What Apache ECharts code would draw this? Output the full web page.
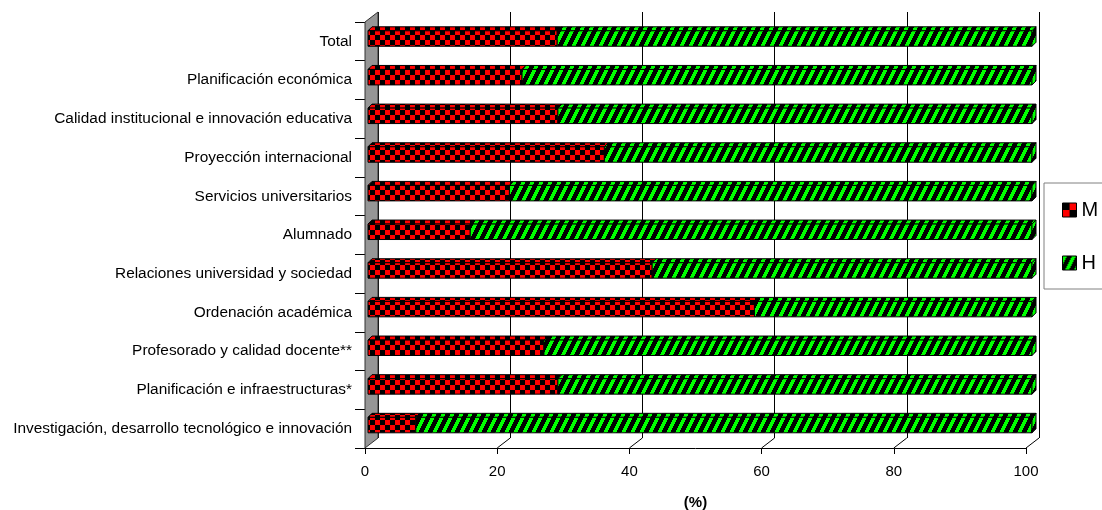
<!DOCTYPE html>
<html><head><meta charset="utf-8">
<script src="https://cdn.jsdelivr.net/npm/echarts@6/dist/echarts.min.js"></script>
<style>html,body{margin:0;padding:0;background:#fff}#c{width:1102px;height:510px}</style>
</head><body><div id="c"></div>
<script>
const categories = ['Total','Planificación económica','Calidad institucional e innovación educativa','Proyección internacional','Servicios universitarios','Alumnado','Relaciones universidad y sociedad','Ordenación académica','Profesorado y calidad docente**','Planificación e infraestructuras*','Investigación, desarrollo tecnológico e innovación'];
const valuesM = [28.5, 23.2, 28.6, 35.6, 21.3, 15.4, 42.8, 58.2, 26.5, 28.6, 7.2];
const valuesH = [71.5, 76.8, 71.4, 64.4, 78.7, 84.6, 57.2, 41.8, 73.5, 71.4, 92.8];
const xTicks = [0, 20, 40, 60, 80, 100];
const seriesNames = ['M', 'H'];
const axisTitle = '(%)';

function makeChecker(sq) {
  const c = document.createElement('canvas'); c.width = sq * 2; c.height = sq * 2;
  const g = c.getContext('2d');
  g.fillStyle = '#FF0000'; g.fillRect(0, 0, sq * 2, sq * 2);
  g.fillStyle = '#000000'; g.fillRect(0, 0, sq, sq); g.fillRect(sq, sq, sq, sq);
  return c;
}
function makeStripes() {
  const w = 9, h = 18;
  const c = document.createElement('canvas'); c.width = w; c.height = h;
  const g = c.getContext('2d');
  g.fillStyle = '#000000'; g.fillRect(0, 0, w, h);
  g.fillStyle = '#00FF00';
  for (let y = 0; y < h; y++) for (let x = 0; x < w; x++) {
    if (((x + Math.floor(y / 2)) % w) < 4) g.fillRect(x, y, 1, 1);
  }
  return c;
}
const patM = { image: makeChecker(5), repeat: 'repeat' };
const patH = { image: makeStripes(), repeat: 'repeat' };
const patMLegend = { image: makeChecker(7), repeat: 'repeat' };
const D = 4;          // bar top-face depth
const WX = 13, WY = 10; // wall depth

function barRenderer(pat, drawSide) {
  return function (params, api) {
    const ci = api.value(0);
    const p0 = api.coord([api.value(1), ci]);
    const p1 = api.coord([api.value(2), ci]);
    const h = api.size([0, 1])[1] * 0.4;
    const yT = p0[1] - h / 2, yB = p0[1] + h / 2;
    const x0 = p0[0], x1 = p1[0];
    const st = { fill: pat, stroke: '#000', lineWidth: 1 };
    const children = [
      { type: 'polygon', shape: { points: [[x0, yT], [x0 + D, yT - D], [x1 + D, yT - D], [x1, yT]] }, style: st },
      { type: 'rect', shape: { x: x0, y: yT, width: x1 - x0, height: yB - yT }, style: st }
    ];
    if (drawSide) children.push({ type: 'polygon', shape: { points: [[x1, yT], [x1 + D, yT - D], [x1 + D, yB - D], [x1, yB]] }, style: st });
    return { type: 'group', children };
  };
}

const dataM = valuesM.map((v, i) => [i, 0, v]);
const dataH = valuesH.map((v, i) => [i, valuesM[i], valuesM[i] + v]);

const chart = echarts.init(document.getElementById('c'), null, { renderer: 'canvas' });
chart.setOption({
  animation: false,
  backgroundColor: '#ffffff',
  textStyle: { fontFamily: 'Liberation Sans, Arial, sans-serif' },
  grid: [
    { left: 378, right: 63, top: 12, bottom: 72, outerBoundsMode: 'none', containLabel: false },
    { left: 365, right: 76, top: 22, bottom: 62, outerBoundsMode: 'none', containLabel: false },
    { left: 368, right: 70, top: 19.2, bottom: 65.6, outerBoundsMode: 'none', containLabel: false }
  ],
  xAxis: [
    { gridIndex: 0, type: 'value', min: 0, max: 100, interval: 20, axisLine: { show: false }, axisTick: { show: false }, axisLabel: { show: false },
      splitLine: { show: true, lineStyle: { color: '#000', width: 1 } } },
    { gridIndex: 1, type: 'value', min: 0, max: 100, interval: 20,
      axisLine: { show: true, lineStyle: { color: '#000', width: 1 } },
      axisTick: { show: true, length: 6, lineStyle: { color: '#000' } },
      axisLabel: { color: '#000', fontSize: 15, margin: 16, fontFamily: 'Liberation Sans, Arial, sans-serif' },
      splitLine: { show: false },
      name: axisTitle, nameLocation: 'middle', nameGap: 47,
      nameTextStyle: { color: '#000', fontSize: 15, fontWeight: 'bold', fontFamily: 'Liberation Sans, Arial, sans-serif' } },
    { gridIndex: 2, type: 'value', min: 0, max: 100, show: false }
  ],
  yAxis: [
    { gridIndex: 0, type: 'value', min: 0, max: 1, show: false },
    { gridIndex: 1, type: 'category', data: categories, inverse: true,
      axisLine: { show: false },
      axisTick: { show: true, length: 10, lineStyle: { color: '#000' } },
      axisLabel: { color: '#000', fontSize: 15.4, margin: 13, fontFamily: 'Liberation Sans, Arial, sans-serif' } },
    { gridIndex: 2, type: 'category', data: categories, inverse: true, show: false }
  ],
  legend: {
    orient: 'vertical', left: 1044, top: 183,
    padding: [17, 40, 16, 18], itemGap: 33,
    itemWidth: 14, itemHeight: 14,
    borderColor: '#808080', borderWidth: 1,
    textStyle: { color: '#000', fontSize: 20, lineHeight: 20, fontFamily: 'Liberation Sans, Arial, sans-serif' },
    data: [
      { name: seriesNames[0], icon: 'rect', itemStyle: { color: patMLegend, borderColor: '#000', borderWidth: 1 } },
      { name: seriesNames[1], icon: 'rect', itemStyle: { color: patH, borderColor: '#000', borderWidth: 1 } }
    ]
  },
  series: [
    { type: 'custom', name: 'wall', xAxisIndex: 0, yAxisIndex: 0, clip: false, z: 1, silent: true,
      data: [[xTicks[0], 0]],
      renderItem: function (params, api) {
        const cs = params.coordSys;
        const x0 = api.coord([api.value(0), 0])[0];
        const top = cs.y, bot = cs.y + cs.height;
        return { type: 'polygon', shape: { points: [[x0, top], [x0, bot], [x0 - WX, bot + WY], [x0 - WX, top + WY]] },
          style: { fill: '#969696', stroke: '#333', lineWidth: 1 } };
      } },
    { type: 'custom', name: 'floor', xAxisIndex: 0, yAxisIndex: 0, clip: false, z: 1, silent: true,
      data: xTicks.slice(1).map(v => [v, 0]),
      renderItem: function (params, api) {
        const cs = params.coordSys;
        const x = api.coord([api.value(0), 0])[0];
        const bot = cs.y + cs.height;
        return { type: 'line', shape: { x1: x, y1: bot, x2: x - WX, y2: bot + WY }, style: { stroke: '#000', lineWidth: 1 } };
      } },
    { type: 'custom', name: seriesNames[0], xAxisIndex: 2, yAxisIndex: 2, z: 3, clip: false,
      itemStyle: { color: patM }, encode: { x: [1, 2], y: 0 },
      data: dataM, renderItem: barRenderer(patM, false) },
    { type: 'custom', name: seriesNames[1], xAxisIndex: 2, yAxisIndex: 2, z: 3, clip: false,
      itemStyle: { color: patH }, encode: { x: [1, 2], y: 0 },
      data: dataH, renderItem: barRenderer(patH, true) }
  ]
});
</script></body></html>
